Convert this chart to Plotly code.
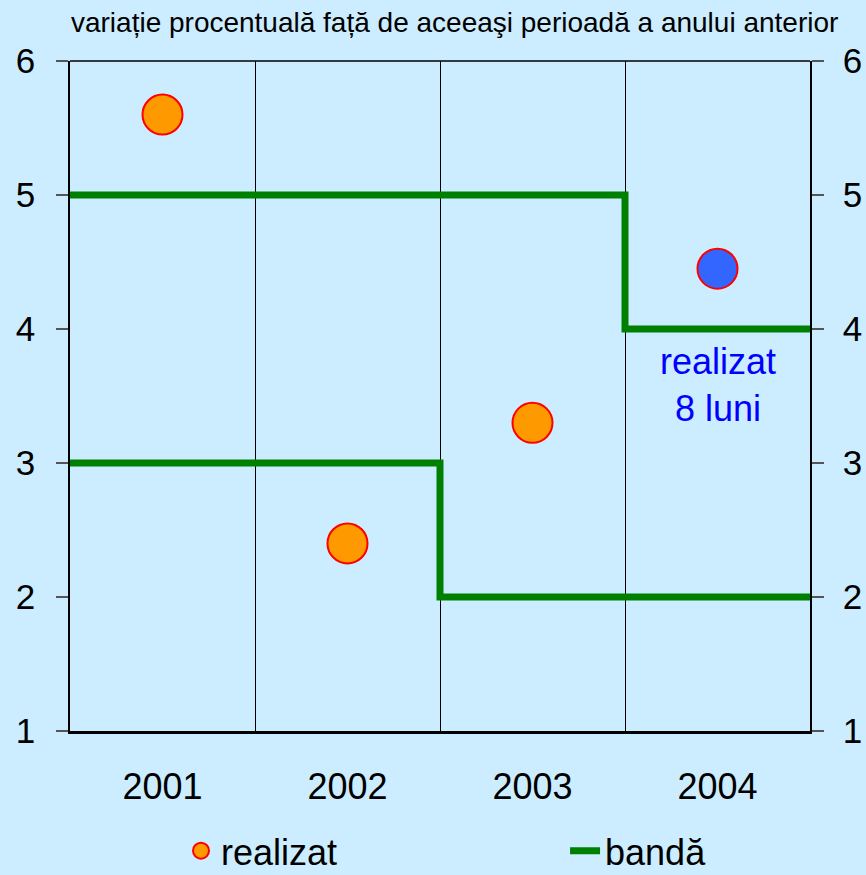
import plotly.graph_objects as go

# Annual categories and realised values (% change vs. same period of previous year)
years = ["2001", "2002", "2003", "2004"]
year_pos = [0.5, 1.5, 2.5, 3.5]
realised = [5.6, 2.4, 3.3, 4.45]
marker_colors = ["#FF9900", "#FF9900", "#FF9900", "#3366FF"]

# Target band (step edges at category boundaries)
band_x = [0, 1, 2, 3, 4]
band_upper = [5, 5, 5, 4, 4]
band_lower = [3, 3, 2, 2, 2]

BG = "#CCECFF"
FONT = "Liberation Sans, Arial, sans-serif"

fig = go.Figure()

fig.add_trace(go.Scatter(
    x=band_x, y=band_upper, mode="lines", line_shape="hv",
    line=dict(color="#008000", width=7), name="bandă",
    legendgroup="band", showlegend=True, legend="legend2",
))
fig.add_trace(go.Scatter(
    x=band_x, y=band_lower, mode="lines", line_shape="hv",
    line=dict(color="#008000", width=7), name="bandă",
    legendgroup="band", showlegend=False,
))
fig.add_trace(go.Scatter(
    x=year_pos, y=realised, mode="markers", name="realizat",
    marker=dict(size=40, color=marker_colors, line=dict(color="#FF0000", width=2)),
    legend="legend",
))
# carrier for the right-hand axis
fig.add_trace(go.Scatter(x=[0], y=[1], yaxis="y2", mode="markers",
                         marker=dict(opacity=0), showlegend=False, hoverinfo="skip"))

fig.add_annotation(x=3.5, y=3.58, text="realizat<br>8 luni", showarrow=False,
                   font=dict(family=FONT, size=36, color="#0000FF"))

# thin frame line along the top of the plot
fig.add_shape(type="line", xref="paper", yref="paper", x0=0, x1=1, y0=1, y1=1,
              line=dict(color="black", width=1.5))

yax = dict(range=[1, 6], tickvals=[1, 2, 3, 4, 5, 6], showgrid=False, zeroline=False,
           showline=True, linecolor="black", linewidth=1.5, ticks="outside",
           ticklen=12, tickcolor="#555555", tickwidth=1.5, automargin=False,
           tickfont=dict(family=FONT, size=35, color="black"), fixedrange=True)

legend_common = dict(orientation="h", y=-0.134, xanchor="left", yanchor="top",
                     bgcolor="rgba(0,0,0,0)",
                     font=dict(family=FONT, size=36, color="black"))

fig.update_layout(
    width=866, height=875,
    margin=dict(l=70, r=56, t=61, b=144, autoexpand=False),
    paper_bgcolor=BG, plot_bgcolor=BG,
    font=dict(family=FONT, color="black"),
    title=dict(text="variație procentuală față de aceeaşi perioadă a anului anterior",
               x=0.525, xanchor="center", y=0.975, yanchor="middle",
               font=dict(family=FONT, size=28, color="black")),
    xaxis=dict(range=[0, 4], tickvals=year_pos, ticktext=years, ticks="",
               showgrid=False, zeroline=False, showline=True, linecolor="black",
               linewidth=3, ticklabelstandoff=22, automargin=False,
               tickfont=dict(family=FONT, size=36, color="black"),
               minor=dict(tickvals=[1, 2, 3], showgrid=True, gridcolor="black",
                          gridwidth=1, ticks="")),
    yaxis=dict(**yax, side="left", ticklabelstandoff=14),
    yaxis2=dict(**yax, side="right", overlaying="y", matches="y", ticklabelstandoff=12),
    legend=dict(**legend_common, x=0.15),
    legend2=dict(**legend_common, x=0.669),
    showlegend=True,
)

fig.write_html("out.html")
